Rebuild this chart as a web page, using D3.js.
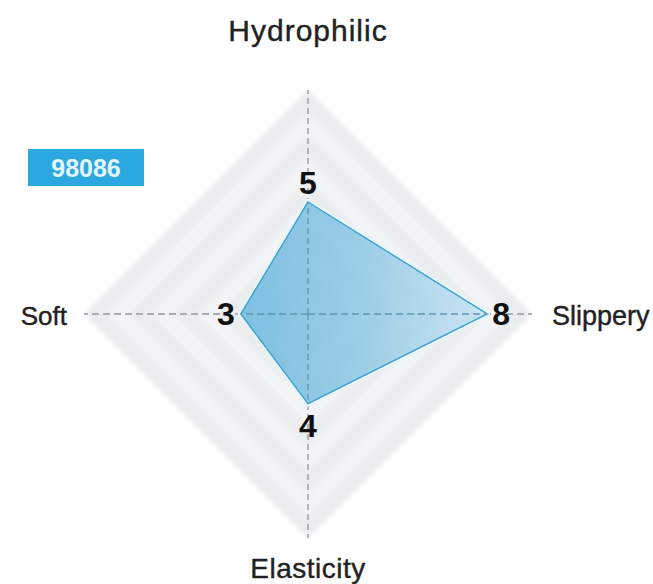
<!DOCTYPE html>
<html>
<head>
<meta charset="utf-8">
<script src="https://cdn.jsdelivr.net/npm/d3@7"></script>
<style>
  body { margin: 0; background: #fff; }
  text { font-family: "Liberation Sans", Arial, Helvetica, sans-serif; }
</style>
</head>
<body>
<div id="chart-area"></div>
<script>
// --- Data ---
var axes = ["Hydrophilic", "Slippery", "Elasticity", "Soft"];
var values = [5, 8, 4, 3];
var levels = [10, 9, 8, 7, 6, 5, 4, 3, 2, 1];
var seriesName = "98086";

// --- Canvas ---
var canvasWidth = 653;
var canvasHeight = 584;
var canvas = d3.select("#chart-area").append("svg")
  .attr("width", canvasWidth)
  .attr("height", canvasHeight);

var cx = 308, cy = 314, radius = 224;
var graph = canvas.append("g")
  .attr("transform", "translate(" + cx + "," + cy + ")");

var rScale = d3.scaleLinear().domain([0, 10]).range([0, radius]);
var angle = d3.scaleLinear().domain([0, axes.length]).range([-Math.PI / 2, 3 * Math.PI / 2]);

function point(i, v) {
  var a = angle(i);
  return [Math.cos(a) * rScale(v), Math.sin(a) * rScale(v)];
}

// defs: blur for the background bands, gradient for the area
var defs = canvas.append("defs");
defs.append("filter").attr("id", "soft")
  .attr("x", "-10%").attr("y", "-10%").attr("width", "120%").attr("height", "120%")
  .append("feGaussianBlur").attr("stdDeviation", 2.4);

var grad = defs.append("linearGradient").attr("id", "areaGrad")
  .attr("x1", "0%").attr("y1", "0%").attr("x2", "100%").attr("y2", "0%");
grad.append("stop").attr("offset", "0%").attr("stop-color", "#6ab7de");
grad.append("stop").attr("offset", "45%").attr("stop-color", "#8ac5e4");
grad.append("stop").attr("offset", "100%").attr("stop-color", "#c4e2f1");

var line = d3.line();

// --- Background bands ---
var bands = graph.append("g").attr("filter", "url(#soft)");
levels.forEach(function(lv, k) {
  var pts = axes.map(function(d, i) { return point(i, lv); });
  bands.append("path")
    .attr("d", line(pts) + "Z")
    .attr("fill", k % 2 === 0 ? "#eaecee" : "#f3f4f5");
});

// --- Axis lines ---
axes.forEach(function(d, i) {
  var end = point(i, 10);
  var vertical = (i % 2 === 0);
  graph.append("line")
    .attr("x1", 0).attr("y1", 0)
    .attr("x2", end[0]).attr("y2", end[1])
    .attr("stroke", vertical ? "#8a8f94" : "#a9adb1")
    .attr("stroke-width", vertical ? 1.2 : 2)
    .attr("stroke-dasharray", vertical ? "6,4" : "7,4");
});

// --- Data area ---
var areaPts = values.map(function(v, i) { return point(i, v); });
graph.append("path")
  .attr("d", line(areaPts) + "Z")
  .attr("fill", "none")
  .attr("stroke", "#e6f6fd")
  .attr("stroke-width", 6)
  .attr("stroke-linejoin", "round");
graph.append("path")
  .attr("d", line(areaPts) + "Z")
  .attr("fill", "url(#areaGrad)")
  .attr("fill-opacity", 0.85)
  .attr("stroke", "#3d9fcf")
  .attr("stroke-width", 1.4);

// redraw the dashed axes faintly over the area
axes.forEach(function(d, i) {
  var p = point(i, values[i]);
  graph.append("line")
    .attr("x1", 0).attr("y1", 0)
    .attr("x2", p[0]).attr("y2", p[1])
    .attr("stroke", i % 2 === 0 ? "#4f87a6" : "#5f95b2")
    .attr("stroke-opacity", 0.7)
    .attr("stroke-width", i % 2 === 0 ? 1.2 : 2)
    .attr("stroke-dasharray", i % 2 === 0 ? "6,4" : "7,4");
});

// --- Value labels ---
var valueOffset = [19, 14, 22, 15];
values.forEach(function(v, i) {
  var p = point(i, v + valueOffset[i] / rScale(1));
  graph.append("text")
    .attr("x", p[0]).attr("y", p[1])
    .attr("text-anchor", "middle")
    .attr("dominant-baseline", "central")
    .attr("font-size", "32px")
    .attr("font-weight", "bold")
    .attr("fill", "#111")
    .text(v);
});

// --- Axis labels ---
var labelPos = [
  {x: 0, y: -radius - 60, anchor: "middle", size: 30, spacing: 1},
  {x: radius + 20, y: 2, anchor: "start", size: 27, spacing: 0},
  {x: 0, y: radius + 30, anchor: "middle", size: 28, spacing: 0.5},
  {x: -radius - 17, y: 2, anchor: "end", size: 26, spacing: 0}
];
axes.forEach(function(d, i) {
  graph.append("text")
    .attr("x", labelPos[i].x).attr("y", labelPos[i].y)
    .attr("text-anchor", labelPos[i].anchor)
    .attr("dominant-baseline", "central")
    .attr("font-size", labelPos[i].size + "px")
    .attr("letter-spacing", labelPos[i].spacing)
    .attr("fill", "#222")
    .attr("stroke", "#222")
    .attr("stroke-width", 0.4)
    .text(d);
});

// --- Legend box ---
var legend = canvas.append("g").attr("transform", "translate(28, 149)");
legend.append("rect")
  .attr("width", 116).attr("height", 37)
  .attr("fill", "#2ba8df");
legend.append("text")
  .attr("x", 58).attr("y", 19)
  .attr("text-anchor", "middle")
  .attr("dominant-baseline", "central")
  .attr("font-size", "25px")
  .attr("font-weight", "bold")
  .attr("fill", "#e4f5fc")
  .text(seriesName);
</script>
</body>
</html>
